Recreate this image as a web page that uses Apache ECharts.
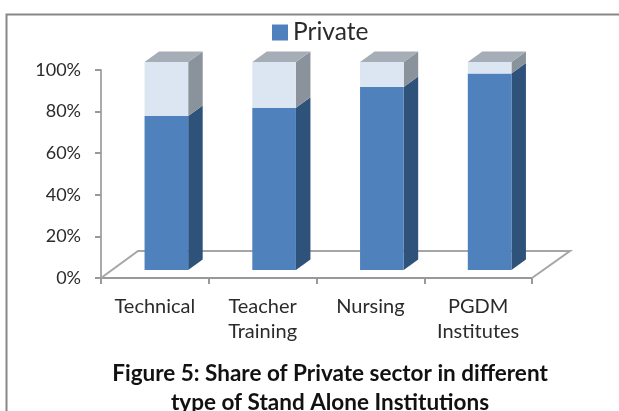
<!DOCTYPE html>
<html><head><meta charset="utf-8">
<style>html,body{margin:0;padding:0;background:#fff}#c{width:619px;height:411px}</style>
<script src="https://cdn.jsdelivr.net/npm/echarts@6/dist/echarts.min.js"></script>
</head><body><div id="c"></div>
<script>
const categories = ['Technical', 'Teacher\nTraining', 'Nursing', 'PGDM\nInstitutes'];
const privateShare = [74, 78, 88, 94.5];
const otherShare = [26, 22, 12, 5.5];
const yTicks = [0, 20, 40, 60, 80, 100];
const titleLines = 'Figure 5: Share of Private sector in different\ntype of Stand Alone Institutions';
const font = 'Lato';

const shift = [11.5, -8], depth = [14.5, -10.5];
function box(front, side, top) {
  return function (params, api) {
    const a = api.coord([api.value(0), api.value(1)]);
    const b = api.coord([api.value(0), api.value(2)]);
    const w = api.size([1, 0])[0] * 0.405;
    const x0 = a[0] + shift[0] - w / 2, x1 = x0 + w;
    const y0 = a[1] + shift[1], y1 = b[1] + shift[1];
    const dx = depth[0], dy = depth[1];
    const children = [
      {type: 'polygon', shape: {points: [[x1, y0], [x1 + dx, y0 + dy], [x1 + dx, y1 + dy], [x1, y1]]}, style: {fill: side}},
      {type: 'rect', shape: {x: x0, y: y1, width: w, height: y0 - y1}, style: {fill: front}}
    ];
    if (top) children.push({type: 'polygon', shape: {points: [[x0, y1], [x0 + dx, y1 + dy], [x1 + dx, y1 + dy], [x1, y1]]}, style: {fill: top}});
    return {type: 'group', children};
  };
}
const chart = echarts.init(document.getElementById('c'), null, {renderer: 'canvas'});
chart.setOption({
  animation: false,
  backgroundColor: '#fff',
  textStyle: {fontFamily: font},
  grid: {left: 101, right: 87, top: 70, height: 208},
  title: {text: titleLines, left: 325, top: 354, textAlign: 'center',
    textStyle: {fontFamily: font, fontSize: 22.5, fontWeight: 'bold', color: '#111', lineHeight: 29}},
  legend: {data: ['Private'], top: 15, left: 267, itemWidth: 16, itemHeight: 16, itemGap: 6, icon: 'rect',
    textStyle: {fontFamily: font, fontSize: 24.5, color: '#2b2b2b'}},
  xAxis: {type: 'category', data: categories, boundaryGap: true,
    axisLine: {lineStyle: {color: '#999', width: 2}},
    axisTick: {show: true, length: 6, lineStyle: {color: '#999', width: 2}},
    axisLabel: {fontFamily: font, fontSize: 20, color: '#2b2b2b', lineHeight: 25, margin: 16, interval: 0}},
  yAxis: {type: 'value', min: 0, max: 100, interval: 20,
    axisLine: {show: true, lineStyle: {color: '#aaa', width: 2}},
    axisTick: {show: true, length: 6, lineStyle: {color: '#999', width: 2}},
    splitLine: {show: false},
    axisLabel: {fontFamily: font, fontSize: 18, color: '#2b2b2b', margin: 20, formatter: v => yTicks.includes(v) ? v + '%' : ''}},
  graphic: [
    {type: 'polyline', silent: true, shape: {points: [[6.5, 420], [6.5, 14.5], [630, 14.5]]}, style: {fill: 'none', stroke: '#888', lineWidth: 2}}
  ],
  series: [
    {type: 'custom', name: 'Floor', silent: true, data: [[0]],
      renderItem: function (params) {
        const c = params.coordSys, dx = 37, dy = -27, l = c.x, r = c.x + c.width, b = c.y + c.height;
        return {type: 'polyline', shape: {points: [[l, b], [l + dx, b + dy], [r + dx + 1, b + dy], [r, b]]},
          style: {fill: 'none', stroke: '#a6a6a6', lineWidth: 2}};
      }},
    {type: 'custom', name: 'Private', itemStyle: {color: '#4f81bd'}, encode: {x: 0, y: [1, 2]},
      data: privateShare.map((v, i) => [i, 0, v]),
      renderItem: box('#4f81bd', '#2f527a', null)},
    {type: 'custom', name: 'Other', itemStyle: {color: '#dce6f2'}, encode: {x: 0, y: [1, 2]},
      data: otherShare.map((v, i) => [i, privateShare[i], privateShare[i] + v]),
      renderItem: box('#dce6f2', '#8a929b', '#a5aeb6')}
  ]
});
</script></body></html>
